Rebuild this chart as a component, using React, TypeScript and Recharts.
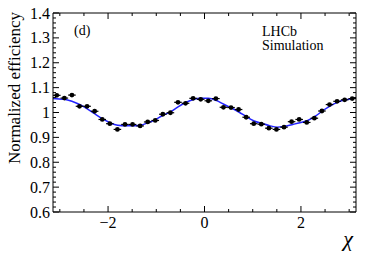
import React from "react";
import { ComposedChart, XAxis, YAxis, Scatter, Line, ErrorBar } from "recharts";

// Bin centres in chi (40 bins over [-pi, pi])
const chiCenters = [
  -3.063, -2.906, -2.749, -2.592, -2.435, -2.278, -2.12, -1.963, -1.806, -1.649,
  -1.492, -1.335, -1.178, -1.021, -0.864, -0.707, -0.55, -0.393, -0.236, -0.079,
  0.079, 0.236, 0.393, 0.55, 0.707, 0.864, 1.021, 1.178, 1.335, 1.492,
  1.649, 1.806, 1.963, 2.12, 2.278, 2.435, 2.592, 2.749, 2.906, 3.063,
];

const efficiency = [
  1.069, 1.058, 1.07, 1.025, 1.025, 1.005, 0.972, 0.955, 0.932, 0.952,
  0.952, 0.946, 0.962, 0.968, 0.993, 0.999, 1.041, 1.037, 1.057, 1.053,
  1.047, 1.056, 1.021, 1.02, 1.012, 0.981, 0.955, 0.953, 0.937, 0.932,
  0.941, 0.963, 0.972, 0.96, 0.977, 1.006, 1.032, 1.045, 1.051, 1.056,
];

const HALF_BIN = 0.0785;
const EFF_ERR = 0.004;

// Fit curve
const curveChi = [
  -3.1416, -3.08, -2.91, -2.75, -2.59, -2.44, -2.28, -2.12, -1.96, -1.8, -1.64,
  -1.48, -1.33, -1.17, -1.01, -0.87, -0.71, -0.54, -0.39, -0.23, -0.08, 0.08,
  0.25, 0.4, 0.56, 0.72, 0.87, 1.03, 1.19, 1.35, 1.51, 1.67, 1.83, 1.98, 2.14,
  2.3, 2.45, 2.61, 2.76, 2.92, 3.08, 3.1416,
];
const curveEff = [
  1.056, 1.055, 1.053, 1.045, 1.032, 1.016, 0.995, 0.975, 0.959, 0.949, 0.947,
  0.947, 0.949, 0.959, 0.972, 0.988, 1.002, 1.024, 1.04, 1.052, 1.057, 1.057,
  1.048, 1.033, 1.018, 1.001, 0.983, 0.966, 0.956, 0.947, 0.941, 0.945, 0.952,
  0.959, 0.968, 0.985, 1.007, 1.027, 1.041, 1.051, 1.056, 1.058,
];

const xTicks = [-3, -2.5, -2, -1.5, -1, -0.5, 0, 0.5, 1, 1.5, 2, 2.5, 3];
const xLabelTicks = [-2, 0, 2];
const yTicks = [
  0.6, 0.62, 0.64, 0.66, 0.68, 0.7, 0.72, 0.74, 0.76, 0.78, 0.8, 0.82, 0.84,
  0.86, 0.88, 0.9, 0.92, 0.94, 0.96, 0.98, 1.0, 1.02, 1.04, 1.06, 1.08, 1.1,
  1.12, 1.14, 1.16, 1.18, 1.2, 1.22, 1.24, 1.26, 1.28, 1.3, 1.32, 1.34, 1.36,
  1.38, 1.4,
];

const points = chiCenters.map((c, i) => ({
  chi: c,
  eff: efficiency[i],
  ex: HALF_BIN,
  ey: EFF_ERR,
}));
const curve = curveChi.map((c, i) => ({ chi: c, fit: curveEff[i] }));

const FONT = "Liberation Serif";
const TICK_FONT = 16;

const isYMajor = (v: number) => Math.abs(v * 10 - Math.round(v * 10)) < 1e-6;
const isXMajor = (v: number) => xLabelTicks.some((t) => Math.abs(t - v) < 1e-6);
const fmtY = (v: number) => String(Number(v.toFixed(1)));
const fmtX = (v: number) => (v < 0 ? "\u2212" + String(-v) : String(v));

const LeftTick = (props: any) => {
  const { x, y, payload } = props;
  const v = payload.value;
  const major = isYMajor(v);
  return (
    <g>
      <line x1={x} y1={y} x2={x + (major ? 6 : 3)} y2={y} stroke="#000" strokeWidth={1} />
      {major && (
        <text x={x - 3} y={y} textAnchor="end" dominantBaseline="central" fontFamily={FONT} fontSize={TICK_FONT} fill="#000">
          {fmtY(v)}
        </text>
      )}
    </g>
  );
};

const RightTick = (props: any) => {
  const { x, y, payload } = props;
  const major = isYMajor(payload.value);
  return <line x1={x} y1={y} x2={x - (major ? 6 : 3)} y2={y} stroke="#000" strokeWidth={1} />;
};

const BottomTick = (props: any) => {
  const { x, y, payload } = props;
  const v = payload.value;
  const major = isXMajor(v);
  return (
    <g>
      <line x1={x} y1={y} x2={x} y2={y - (major ? 6 : 3)} stroke="#000" strokeWidth={1} />
      {major && (
        <text x={x} y={y + 10} textAnchor="middle" dominantBaseline="central" fontFamily={FONT} fontSize={TICK_FONT} fill="#000">
          {fmtX(v)}
        </text>
      )}
    </g>
  );
};

const TopTick = (props: any) => {
  const { x, y, payload } = props;
  const major = isXMajor(payload.value);
  return <line x1={x} y1={y} x2={x} y2={y + (major ? 6 : 3)} stroke="#000" strokeWidth={1} />;
};

const Dot = (props: any) => <circle cx={props.cx} cy={props.cy} r={2.4} fill="#000" />;

export default function App() {
  return (
    <div style={{ position: "absolute", left: 0, top: 0, width: 374, height: 253, background: "#fff" }}>
      <ComposedChart width={374} height={253} margin={{ top: 12, right: 17, bottom: 40, left: 52 }}>
        <XAxis
          xAxisId="b"
          type="number"
          dataKey="chi"
          domain={[-Math.PI, Math.PI]}
          allowDataOverflow
          ticks={xTicks}
          interval={0}
          height={1}
          tickSize={0}
          tickMargin={0}
          tickLine={false}
          axisLine={{ stroke: "#000", strokeWidth: 1 }}
          tick={BottomTick}
        />
        <XAxis
          xAxisId="t"
          orientation="top"
          type="number"
          dataKey="chi"
          domain={[-Math.PI, Math.PI]}
          allowDataOverflow
          ticks={xTicks}
          interval={0}
          height={1}
          tickSize={0}
          tickMargin={0}
          tickLine={false}
          axisLine={{ stroke: "#000", strokeWidth: 1 }}
          tick={TopTick}
        />
        <YAxis
          yAxisId="l"
          type="number"
          dataKey="eff"
          domain={[0.6, 1.4]}
          allowDataOverflow
          ticks={yTicks}
          interval={0}
          width={1}
          tickSize={0}
          tickMargin={0}
          tickLine={false}
          axisLine={{ stroke: "#000", strokeWidth: 1 }}
          tick={LeftTick}
        />
        <YAxis
          yAxisId="r"
          orientation="right"
          type="number"
          domain={[0.6, 1.4]}
          allowDataOverflow
          ticks={yTicks}
          interval={0}
          width={1}
          tickSize={0}
          tickMargin={0}
          tickLine={false}
          axisLine={{ stroke: "#000", strokeWidth: 1 }}
          tick={RightTick}
        />
        <Line
          xAxisId="b"
          yAxisId="l"
          data={curve}
          dataKey="fit"
          type="monotone"
          stroke="#2323ff"
          strokeWidth={1.5}
          dot={false}
          activeDot={false}
          isAnimationActive={false}
        />
        <Scatter
          xAxisId="b"
          yAxisId="l"
          data={points}
          dataKey="eff"
          fill="#000"
          shape={Dot}
          isAnimationActive={false}
        >
          <ErrorBar dataKey="ex" direction="x" width={0} stroke="#000" strokeWidth={1.2} isAnimationActive={false} />
          <ErrorBar dataKey="ey" direction="y" width={0} stroke="#000" strokeWidth={1.2} isAnimationActive={false} />
        </Scatter>
      </ComposedChart>
      <svg width={374} height={253} style={{ position: "absolute", left: 0, top: 0, pointerEvents: "none" }}>
        <text
          x={14}
          y={88}
          transform="rotate(-90 14 88)"
          textAnchor="middle"
          dominantBaseline="central"
          fontFamily={FONT}
          fontSize={17}
          fill="#000"
        >
          Normalized efficiency
        </text>
        <text x={348} y={238} textAnchor="middle" dominantBaseline="central" fontFamily={FONT} fontStyle="italic" fontSize={22} fill="#000">
          χ
        </text>
        <text x={74} y={30} dominantBaseline="central" fontFamily={FONT} fontSize={14} fill="#000">
          (d)
        </text>
        <text x={262} y={31} dominantBaseline="central" fontFamily={FONT} fontSize={14} fill="#000">
          LHCb
        </text>
        <text x={262} y={45} dominantBaseline="central" fontFamily={FONT} fontSize={14} fill="#000">
          Simulation
        </text>
      </svg>
    </div>
  );
}
